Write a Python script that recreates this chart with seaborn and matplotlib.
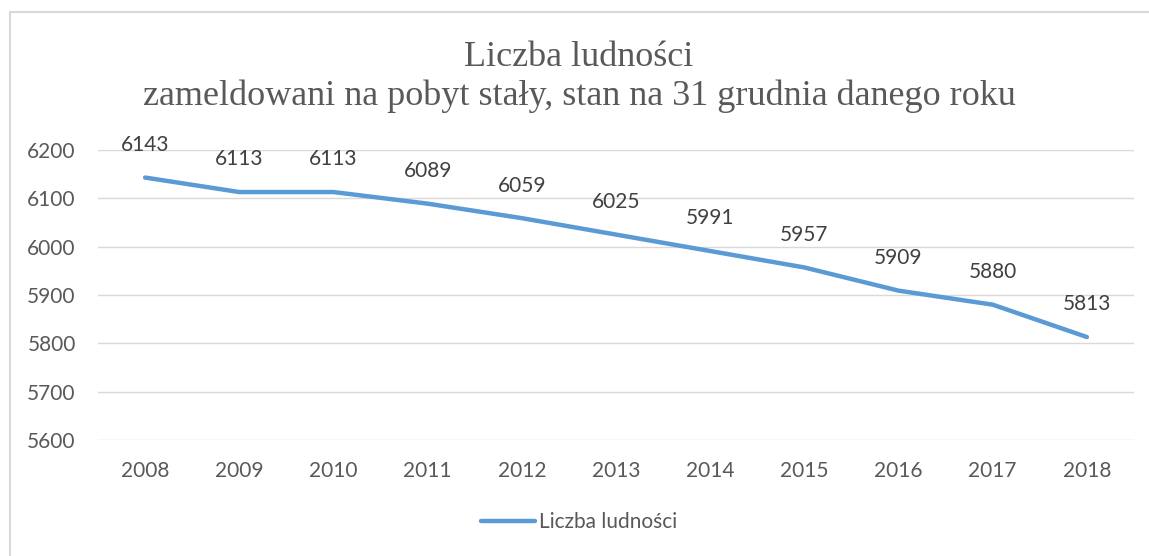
import pandas as pd
import numpy as np
import matplotlib.pyplot as plt
import seaborn as sns
from matplotlib.lines import Line2D

# Data
years = ['2008', '2009', '2010', '2011', '2012', '2013', '2014', '2015', '2016', '2017', '2018']
population = [6143, 6113, 6113, 6089, 6059, 6025, 5991, 5957, 5909, 5880, 5813]
y_ticks = [5600, 5700, 5800, 5900, 6000, 6100, 6200]
series_name = 'Liczba ludności'
title_line1 = 'Liczba ludności'
title_line2 = 'zameldowani na pobyt stały, stan na 31 grudnia danego roku'

df = pd.DataFrame({'rok': years, 'ludnosc': population})

sns.set_theme(style='white')
plt.rcParams['font.family'] = ['Lato', 'DejaVu Sans']

line_color = '#5B9BD5'
text_color = '#595959'

fig = plt.figure(figsize=(11.49, 5.56), dpi=100)
ax = fig.add_axes([98 / 1149, 1 - 440 / 556, (1134 - 98) / 1149, (440 - 150) / 556])

sns.lineplot(data=df, x='rok', y='ludnosc', ax=ax, color=line_color,
             linewidth=3.2, solid_capstyle='round', sort=False)

# data labels above each point
for i, v in enumerate(population):
    ax.annotate(str(v), (i, v), xytext=(0, 23.5), textcoords='offset points',
                ha='center', va='center', fontsize=15, color='#404040')

ax.set_ylim(5600, 6200)
ax.set_xlim(-0.5, len(years) - 0.5)
ax.set_yticks(y_ticks)
ax.set_xlabel('')
ax.set_ylabel('')
ax.grid(axis='y', color='#D9D9D9', linewidth=1.0)
ax.set_axisbelow(True)
for s in ax.spines.values():
    s.set_visible(False)
ax.tick_params(axis='y', length=0, pad=16, labelsize=15, labelcolor=text_color)
ax.tick_params(axis='x', length=0, pad=15, labelsize=15, labelcolor=text_color)

# title (two lines, serif)
fig.text(579 / 1149, 1 - 66 / 556, title_line1, ha='center', va='baseline',
         fontsize=26, color=text_color, family=['Liberation Serif'])
fig.text(579 / 1149, 1 - 105 / 556, title_line2, ha='center', va='baseline',
         fontsize=26, color=text_color, family=['Liberation Serif'])

# legend at bottom
handle = Line2D([0], [0], color=line_color, linewidth=3.2, solid_capstyle='round')
fig.legend([handle], [series_name], loc='center', bbox_to_anchor=(579 / 1149, 1 - 522 / 556),
           frameon=False, fontsize=15, labelcolor=text_color,
           handlelength=2.6, handletextpad=0.2)

# chart area border (top and left visible)
fig.add_artist(Line2D([10 / 1149, 1.0], [1 - 11.5 / 556] * 2, color='#D9D9D9', linewidth=1.5,
                      transform=fig.transFigure))
fig.add_artist(Line2D([10 / 1149] * 2, [0.0, 1 - 11.5 / 556], color='#D9D9D9', linewidth=1.5,
                      transform=fig.transFigure))

fig.savefig('out.png', dpi=100)
